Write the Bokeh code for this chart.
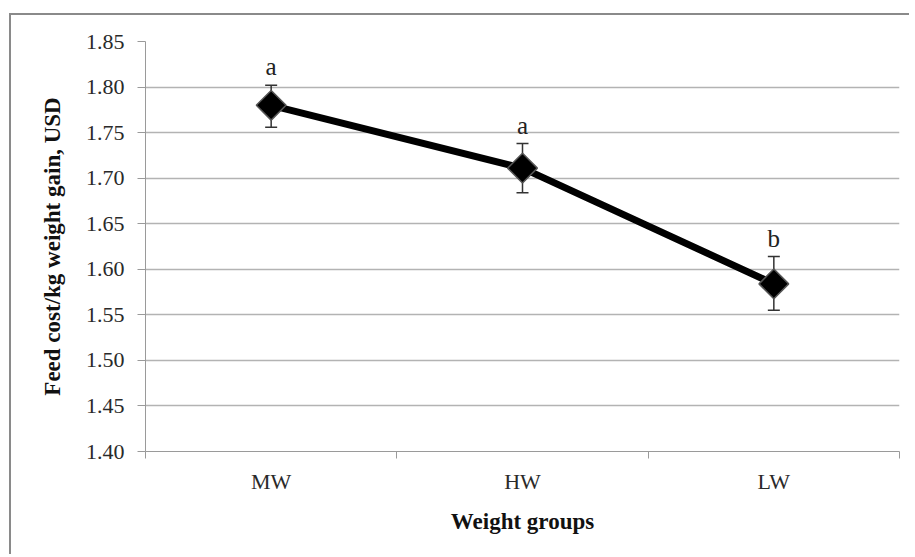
import numpy as np
from bokeh.plotting import figure
from bokeh.models import (ColumnDataSource, FixedTicker, Range1d, Whisker, TeeHead,
                          NumeralTickFormatter)
from bokeh.core.properties import value
from bokeh.embed import file_html
from bokeh.resources import INLINE

groups = ["MW", "HW", "LW"]
feed_cost = [1.780, 1.711, 1.584]
err_upper = [1.802, 1.738, 1.614]
err_lower = [1.756, 1.684, 1.555]
letters = ["a", "a", "b"]
y_ticks = [1.40, 1.45, 1.50, 1.55, 1.60, 1.65, 1.70, 1.75, 1.80, 1.85]

xpos = np.arange(len(groups)) + 0.5
src = ColumnDataSource(dict(x=xpos, y=feed_cost, up=err_upper, lo=err_lower, lab=letters))

FONT = "Liberation Serif"
p = figure(width=900, height=541, output_backend="svg", toolbar_location=None,
           x_range=Range1d(0, len(groups)), y_range=Range1d(y_ticks[0], y_ticks[-1]),
           min_border_left=134, min_border_right=12, min_border_top=26, min_border_bottom=105)
p.styles = {"border-top": "2px solid #8a8a8a", "border-left": "2px solid #8a8a8a",
            "margin-top": "13px", "margin-left": "9px"}
p.outline_line_color = None
p.xgrid.grid_line_color = None
p.ygrid.grid_line_color = "#b3b3b3"
p.ygrid.grid_line_width = 1.3

# y axis
p.yaxis.ticker = FixedTicker(ticks=y_ticks)
p.yaxis.formatter = NumeralTickFormatter(format="0.00")
p.yaxis.minor_tick_line_color = None
p.yaxis.major_tick_in = 0
p.yaxis.major_tick_out = 8
p.yaxis.axis_line_color = "#9a9a9a"
p.yaxis.major_tick_line_color = "#9a9a9a"
p.yaxis.major_label_text_font = FONT
p.yaxis.major_label_text_font_size = "22px"
p.yaxis.major_label_text_color = "#2a2a2a"
p.yaxis.major_label_standoff = 13
p.yaxis.axis_label = "Feed cost/kg weight gain, USD"
p.yaxis.axis_label_text_font = FONT
p.yaxis.axis_label_text_font_style = "bold"
p.yaxis.axis_label_text_font_size = "23px"
p.yaxis.axis_label_text_color = "#111111"
p.yaxis.axis_label_standoff = 18

# x axis
p.xaxis.ticker = FixedTicker(ticks=list(xpos), minor_ticks=list(np.arange(len(groups) + 1)))
p.xaxis.major_label_overrides = {float(x): g for x, g in zip(xpos, groups)}
p.xaxis.major_tick_line_color = None
p.xaxis.major_tick_out = 0
p.xaxis.minor_tick_in = 0
p.xaxis.minor_tick_out = 7
p.xaxis.minor_tick_line_color = "#9a9a9a"
p.xaxis.axis_line_color = "#9a9a9a"
p.xaxis.major_label_text_font = FONT
p.xaxis.major_label_text_font_size = "22px"
p.xaxis.major_label_text_color = "#2a2a2a"
p.xaxis.major_label_standoff = 10
p.xaxis.axis_label = "Weight groups"
p.xaxis.axis_label_text_font = FONT
p.xaxis.axis_label_text_font_style = "bold"
p.xaxis.axis_label_text_font_size = "23px"
p.xaxis.axis_label_text_color = "#111111"
p.xaxis.axis_label_standoff = 12

p.line("x", "y", source=src, line_color="black", line_width=7)
p.add_layout(Whisker(source=src, base="x", upper="up", lower="lo",
                     line_color="#333333", line_width=1.5,
                     upper_head=TeeHead(size=12, line_color="#333333", line_width=1.5),
                     lower_head=TeeHead(size=12, line_color="#333333", line_width=1.5)))
p.scatter("x", "y", source=src, marker="square", angle=np.pi / 4, size=21,
          fill_color="black", line_color="#555555", line_width=1.5)
p.text("x", "up", text="lab", source=src, text_font=value(FONT), text_font_size="25px",
       text_align="center", text_baseline="bottom", y_offset=-5, text_color="#222222")

open("out.html", "w").write(file_html(p, INLINE))
